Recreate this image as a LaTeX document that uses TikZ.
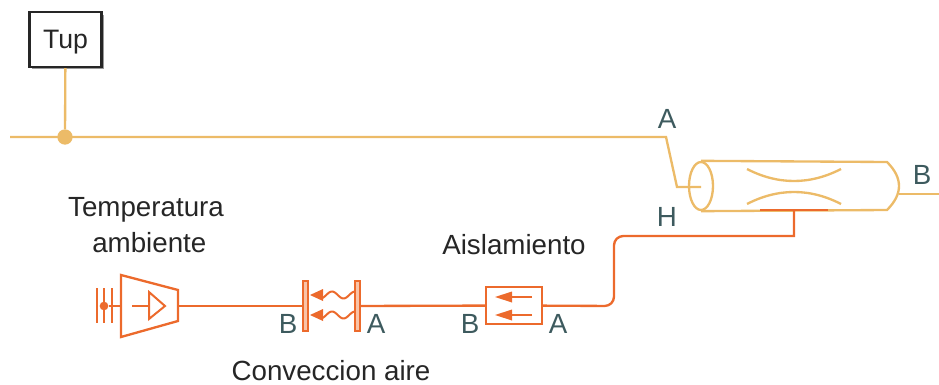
\documentclass[tikz,border=0pt]{standalone}
\usepackage{fontspec}
\setmainfont{Liberation Sans}
\usetikzlibrary{shadows,shapes.geometric}
\definecolor{gasyellow}{HTML}{ECBB68}
\definecolor{heatorange}{HTML}{EC6A2C}
\definecolor{platefill}{HTML}{F9C4A8}
\definecolor{portgreen}{HTML}{3D5A5E}
\tikzset{
	gasline/.style={draw=gasyellow, line width=1.75pt},
	heatline/.style={draw=heatorange, line width=1.75pt},
	thinheat/.style={draw=heatorange, line width=1.5pt},
	portlabel/.style={text=portgreen, font=\fontsize{20.8}{25}\selectfont, inner sep=0pt},
	namelabel/.style={text=black!85, font=\fontsize{20.8}{27}\selectfont, align=center, inner sep=0pt},
	tupbox/.style={draw=black!85, fill=white, line width=1.8pt, minimum width=54pt, minimum height=41pt, inner sep=0pt, drop shadow={shadow xshift=2pt, shadow yshift=-2pt, fill=black, opacity=0.4}},
	plate/.style={thinheat, fill=platefill, minimum width=3.8pt, minimum height=37pt, inner sep=0pt},
	isobox/.style={heatline, minimum width=42pt, minimum height=27.5pt, inner sep=0pt}
}
\begin{document}
\begin{tikzpicture}[x=0.75pt, y=-0.75pt]
	\useasboundingbox (0,0) rectangle (939,385);

	% tup and gas line
	\node[tupbox] (tup) at (65.5,39.5) {};
	\node[text=black!85, font=\fontsize{20}{25}\selectfont, inner sep=0pt] (tuptext) at (65.5,42.5) {Tup};
	\node[circle, fill=gasyellow, minimum size=11.5pt, inner sep=0pt] (junc) at (65,137) {};
	\coordinate (gasin) at (10,137);
	\coordinate (bendup) at (666,137);
	\coordinate (benddown) at (677,187);
	\coordinate (cylin) at (701,187);
	\coordinate (gasout) at (939,194);
	\coordinate (cylout) at (899,194);
	\draw[gasline] (tup) -- (junc);
	\draw[gasline] (gasin) -- (bendup) -- (benddown) -- (cylin);
	\draw[gasline] (cylout) -- (gasout);

	% pipe
	\node[ellipse, gasline, minimum width=18pt, minimum height=36pt, inner sep=0pt] (cylend) at (701,186) {};
	\coordinate (cyltopr) at (887,162);
	\coordinate (cylbotr) at (887,210);
	\draw[gasline] (cylend.north) -- (cyltopr) .. controls (895,170) and (899,178) .. (899,186) .. controls (899,194) and (895,202) .. (cylbotr) -- (cylend.south);
	\draw[gasline] (747,169) .. controls (778,185) and (810,185) .. (841,169);
	\draw[gasline] (747,204) .. controls (778,188) and (810,188) .. (841,204);

	% heat path
	\coordinate (wallleft) at (760,210);
	\coordinate (wallright) at (828,210);
	\coordinate (wallmid) at (794,210);
	\coordinate (heatfoot) at (614,306);
	\coordinate (heathead) at (614,236);
	\coordinate (heatbend) at (794,236);
	\coordinate (tempout) at (178,306);
	\node[plate] (plateb) at (305.5,306) {};
	\node[plate] (platea) at (357.5,306) {};
	\node[isobox] (iso) at (514,305.5) {};
	\draw[heatline] (wallleft) -- (wallright);
	\draw[heatline, rounded corners=7pt] (iso) -- (heatfoot) -- (heathead) [sharp corners] -- (heatbend) -- (wallmid);
	\draw[heatline] (tempout) -- (plateb);
	\draw[heatline] (platea) -- (iso);

	% ambient source
	\draw[heatline, line join=miter] (121,275) -- (178,290) -- (178,321) -- (121,337) -- cycle;
	\draw[thinheat] (132,306) -- (149,306);
	\draw[thinheat] (149,292) -- (165,306) -- (149,319) -- cycle;
	\foreach \xx in {97,104,112}
	{
		\draw[thinheat] (\xx,288) -- (\xx,323);
	}
	\node[circle, fill=heatorange, minimum size=6.5pt, inner sep=0pt] (sourcedot) at (104,306) {};
	\coordinate (sourcein) at (121,306);
	\draw[thinheat] (sourcedot) -- (sourcein);

	% convection arrows
	\foreach \yy in {295,315}
	{
		\draw[thinheat] plot[domain=322:355, samples=40, smooth] (\x, {\yy-3.5*cos((\x-332)*360/23)});
		\fill[heatorange] (323,\yy-6) -- (310,\yy) -- (323,\yy+6) -- cycle;
	}

	% insulation arrows
	\foreach \yy in {297,315}
	{
		\draw[thinheat] (532,\yy) -- (505,\yy);
		\fill[heatorange] (512,\yy-5.5) -- (495,\yy) -- (512,\yy+5.5) -- cycle;
	}

	% labels
	\node[portlabel] (porta) at (667,119) {A};
	\node[portlabel] (portb) at (922,175) {B};
	\node[portlabel] (porth) at (667,217) {H};
	\node[portlabel] (convb) at (288,324) {B};
	\node[portlabel] (conva) at (376,324) {A};
	\node[portlabel] (isob) at (470,324) {B};
	\node[portlabel] (isoa) at (558,324) {A};
	\node[namelabel] (tempname) at (146,225) {Temperatura\\\hspace*{5pt}ambiente};
	\node[namelabel] (isoname) at (514,245) {Aislamiento};
	\node[namelabel] (convname) at (331,371) {Conveccion aire};
\end{tikzpicture}
\end{document}
